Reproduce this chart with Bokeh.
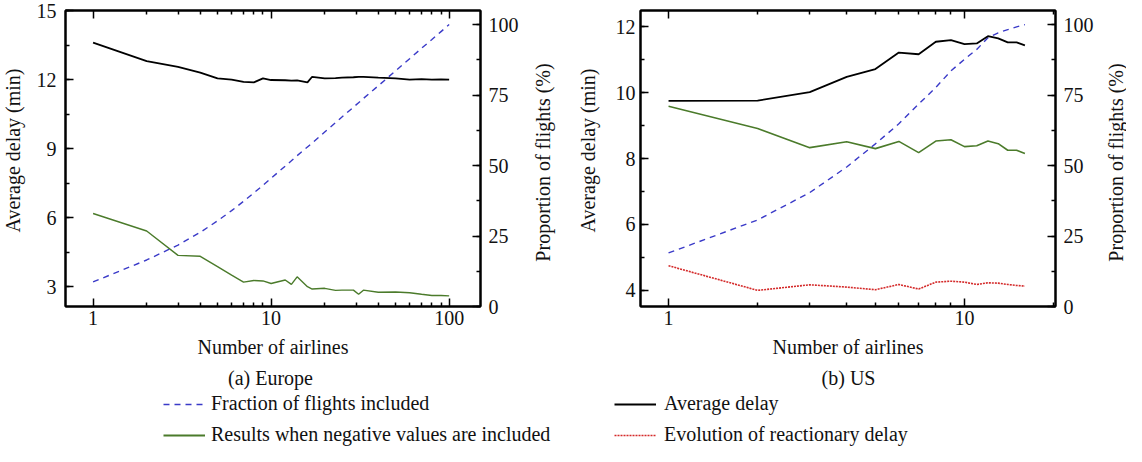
import math
from bokeh.plotting import figure
from bokeh.models import (Range1d, LinearAxis, LogAxis, SingleIntervalTicker, FixedTicker,
                          BasicTickFormatter, CustomJSTickFormatter, Legend, LegendItem,
                          Label, ColumnDataSource)
from bokeh.layouts import row, column
from bokeh.embed import file_html
from bokeh.resources import INLINE

FONT = "Liberation Serif"
TXT = "#111111"
BLUE = "#3a3ac8"
GREEN = "#4b7b2b"
RED = "#d42a2a"

# ---------------- data: (a) Europe ----------------
eu_airlines = [1, 2, 3, 4, 5, 6, 7, 8, 9, 10, 12, 13, 14, 16, 17, 20, 23, 25, 29, 31, 33,
               40, 50, 60, 70, 80, 90, 100]
eu_avg_delay = [13.6, 12.8, 12.55, 12.3, 12.05, 12.0, 11.9, 11.88, 12.05, 11.98, 11.97, 11.95,
                11.96, 11.88, 12.12, 12.05, 12.06, 12.08, 12.1, 12.12, 12.12, 12.08, 12.05,
                12.0, 12.02, 12.0, 12.01, 12.0]
eu_negative_incl = [6.18, 5.42, 4.36, 4.32, 3.87, 3.5, 3.2, 3.27, 3.25, 3.14, 3.29, 3.1, 3.43,
                    3.0, 2.9, 2.93, 2.84, 2.85, 2.85, 2.67, 2.85, 2.76, 2.77, 2.74, 2.67, 2.62,
                    2.62, 2.6]
eu_fraction = [8.7, 16.5, 21.8, 26.3, 30.4, 34.0, 37.3, 40.3, 43.0, 45.5, 49.8, 51.7, 53.5,
               56.6, 58.0, 61.9, 65.2, 67.2, 70.7, 72.3, 73.8, 78.3, 83.6, 87.9, 91.6, 94.7,
               97.5, 100]

# ---------------- data: (b) US ----------------
us_airlines = [1, 2, 3, 4, 5, 6, 7, 8, 9, 10, 11, 12, 13, 14, 15, 16]
us_avg_delay = [9.75, 9.76, 10.02, 10.48, 10.72, 11.22, 11.17, 11.55, 11.6, 11.48, 11.5,
                11.72, 11.65, 11.53, 11.53, 11.44]
us_negative_incl = [9.59, 8.91, 8.33, 8.51, 8.3, 8.52, 8.18, 8.53, 8.57, 8.36, 8.39, 8.53,
                    8.45, 8.25, 8.25, 8.15]
us_reactionary = [4.74, 3.99, 4.16, 4.09, 4.01, 4.17, 4.03, 4.24, 4.27, 4.24, 4.17, 4.22,
                  4.21, 4.17, 4.14, 4.12]
us_fraction = [19.0, 30.7, 40.4, 49.5, 57.7, 64.8, 71.8, 77.7, 83.6, 87.7, 91.2, 95.3, 97.1,
               98.2, 99.2, 100]

x_major_eu = [1, 10, 100]
x_minor_eu = [2, 3, 4, 5, 6, 7, 8, 9, 20, 30, 40, 50, 60, 70, 80, 90]
x_major_us = [1, 10]
x_minor_us = [2, 3, 4, 5, 6, 7, 8, 9, 20]

y_left_label = "Average delay (min)"
y_right_label = "Proportion of flights (%)"
x_label = "Number of airlines"
legend_left = ["Fraction of flights included", "Results when negative values are included"]
legend_right = ["Average delay", "Evolution of reactionary delay"]
panel_titles = ["(a) Europe", "(b) US"]

PANEL_H = 364


def style_axis(ax, labels=True):
    ax.major_tick_in = 8
    ax.major_tick_out = 0
    ax.minor_tick_in = 4
    ax.minor_tick_out = 0
    ax.axis_line_width = 2
    ax.axis_line_color = "black"
    ax.major_tick_line_width = 1.5
    ax.minor_tick_line_width = 1.5
    ax.major_tick_line_color = "black"
    ax.minor_tick_line_color = "black"
    ax.major_label_text_font = FONT
    ax.major_label_text_color = TXT
    ax.major_label_text_font_size = "20px" if labels else "1px"
    ax.axis_label_text_font = FONT
    ax.axis_label_text_font_size = "20px"
    ax.axis_label_text_font_style = "normal"
    ax.axis_label_text_color = TXT


def blank_strip(width, height):
    q = figure(width=width, height=height, output_backend="svg", toolbar_location=None,
               x_range=Range1d(0, 1), y_range=Range1d(0, 1),
               x_axis_location=None, y_axis_location=None,
               min_border_left=0, min_border_right=0, min_border_top=0, min_border_bottom=0)
    q.grid.visible = False
    q.outline_line_color = None
    q.background_fill_color = "white"
    q.border_fill_color = "white"
    return q


def add_text(q, txt, sx, sy, angle=0.0):
    q.add_layout(Label(x=sx, y=sy, x_units="screen", y_units="screen", text=txt,
                       angle=angle, text_align="center", text_baseline="middle",
                       text_font=FONT, text_font_size="20px", text_color=TXT))


def make_panel(width, xr, yr, y_interval, x_major, x_minor, mb_left, mb_right, left_standoff):
    p = figure(width=width, height=PANEL_H, x_axis_type="log",
               x_range=Range1d(*xr), y_range=Range1d(*yr),
               output_backend="svg", toolbar_location=None,
               min_border_left=mb_left, min_border_right=mb_right,
               min_border_top=10, min_border_bottom=58)
    p.extra_y_ranges = {"pct": Range1d(0, 105)}
    p.grid.visible = False
    p.outline_line_color = "black"
    p.outline_line_width = 2
    p.background_fill_color = "white"
    p.border_fill_color = "white"

    bx = p.xaxis[0]
    bx.ticker = FixedTicker(ticks=x_major, minor_ticks=x_minor)
    bx.formatter = BasicTickFormatter()
    bx.axis_label = x_label
    bx.major_label_standoff = 4
    bx.axis_label_standoff = 8
    style_axis(bx)

    ly = p.yaxis[0]
    ly.ticker = SingleIntervalTicker(interval=y_interval, num_minor_ticks=2)
    ly.major_label_standoff = left_standoff
    style_axis(ly)

    top = LogAxis(ticker=FixedTicker(ticks=x_major, minor_ticks=x_minor),
                  formatter=CustomJSTickFormatter(code="return ''"),
                  major_label_standoff=0)
    style_axis(top, labels=False)
    p.add_layout(top, "above")

    ry = LinearAxis(y_range_name="pct",
                    ticker=SingleIntervalTicker(interval=25, num_minor_ticks=2),
                    major_label_standoff=8)
    style_axis(ry)
    p.add_layout(ry, "right")
    return p


ROT = math.pi / 2
# (the strips share the panels' frame in the row: offsets are from the frame bottom)

# ---------------- strip left of panel (a): its y-axis title ----------------
q0 = blank_strip(26, PANEL_H)
add_text(q0, y_left_label, 12, 156, ROT)

# ---------------- panel (a) ----------------
p1 = make_panel(504, (0.7, 150), (2.14, 15), 3, x_major_eu, x_minor_eu, 39, 50, 9)
src_eu = ColumnDataSource(dict(x=eu_airlines, avg=eu_avg_delay, neg=eu_negative_incl,
                               frac=eu_fraction))
p1.line("x", "frac", source=src_eu, y_range_name="pct", line_color=BLUE,
        line_width=1.4, line_dash="6 5")
p1.line("x", "neg", source=src_eu, line_color=GREEN, line_width=1.4)
p1.line("x", "avg", source=src_eu, line_color="black", line_width=1.8)

# ---------------- strip between panels: right title of (a), left title of (b) ----------------
q1 = blank_strip(82, PANEL_H)
add_text(q1, y_right_label, 12, 144, ROT)
add_text(q1, y_left_label, 57, 156, ROT)

# ---------------- panel (b) ----------------
p2 = make_panel(492, (0.804, 20.3), (3.5, 12.5), 2, x_major_us, x_minor_us, 28, 49, 5)
src_us = ColumnDataSource(dict(x=us_airlines, avg=us_avg_delay, neg=us_negative_incl,
                               rea=us_reactionary, frac=us_fraction))
p2.line("x", "frac", source=src_us, y_range_name="pct", line_color=BLUE,
        line_width=1.4, line_dash="6 5")
p2.line("x", "neg", source=src_us, line_color=GREEN, line_width=1.6)
p2.line("x", "rea", source=src_us, line_color=RED, line_width=1.6, line_dash="2 1")
p2.line("x", "avg", source=src_us, line_color="black", line_width=1.8)

# ---------------- strip right of panel (b) ----------------
q2 = blank_strip(22, PANEL_H)
add_text(q2, y_right_label, 11, 144, ROT)

# ---------------- bottom strip: panel captions + legend ----------------
p3 = blank_strip(1126, 82)

# legend-only renderers (no visible data)
nan = float("nan")
legend_src = ColumnDataSource(dict(x=[nan], y=[nan]))
g_frac = p3.line("x", "y", source=legend_src, line_color=BLUE, line_width=1.6,
                 line_dash="6 5")
g_neg = p3.line("x", "y", source=legend_src, line_color=GREEN, line_width=1.8)
g_avg = p3.line("x", "y", source=legend_src, line_color="black", line_width=1.8)
g_rea = p3.line("x", "y", source=legend_src, line_color=RED, line_width=1.6,
                line_dash="2 1")

for txt, cx in zip(panel_titles, [270, 848]):
    add_text(p3, txt, cx, 69)

leg_common = dict(padding=0, margin=0, spacing=8, label_height=22, glyph_height=22,
                  glyph_width=42, label_text_font=FONT, label_text_font_size="20px",
                  label_text_color=TXT, border_line_color=None, background_fill_alpha=0)
leg1 = Legend(items=[LegendItem(label=legend_left[0], renderers=[g_frac]),
                     LegendItem(label=legend_left[1], renderers=[g_neg])],
              location=(163, 0), label_standoff=6, **leg_common)
leg2 = Legend(items=[LegendItem(label=legend_right[0], renderers=[g_avg]),
                     LegendItem(label=legend_right[1], renderers=[g_rea])],
              location=(614, 0), label_standoff=8, **leg_common)
p3.add_layout(leg1)
p3.add_layout(leg2)

layout = column(row(q0, p1, q1, p2, q2), p3)
open("out.html", "w").write(file_html(layout, INLINE))
